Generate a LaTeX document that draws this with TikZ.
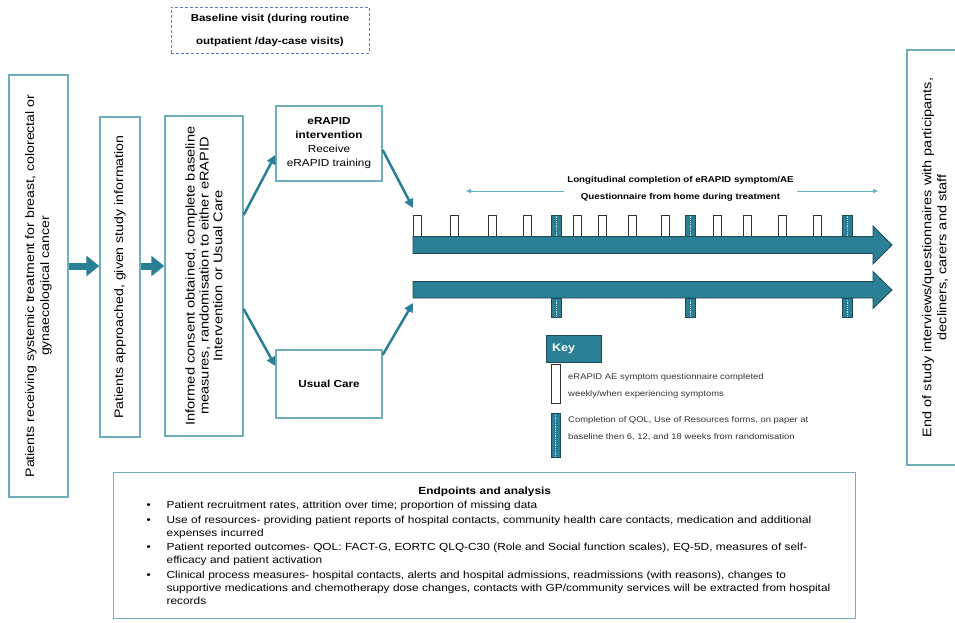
\documentclass[tikz,border=0pt]{standalone}
\usepackage{fontspec}
\setmainfont{Liberation Sans}
\newfontfamily\widesans[FakeStretch=1.15]{Liberation Sans}
\usetikzlibrary{arrows.meta}

\definecolor{flowteal}{RGB}{42,127,148}
\definecolor{boxteal}{RGB}{112,174,188}
\definecolor{darkteal}{RGB}{28,74,88}
\definecolor{spanteal}{RGB}{96,178,200}
\definecolor{dashblue}{RGB}{90,128,196}

\newcommand{\epbullet}{\par\noindent\hangindent=49pt\hangafter=1\makebox[49pt][l]{\hspace{29pt}\textbullet}}

\begin{document}
\begin{tikzpicture}[x=1pt, y=-1pt,
  box/.style={draw=boxteal, line width=1.4pt, fill=white, align=center, inner sep=2pt},
  vbox/.style={box, rotate=90},
  flow/.style={draw=flowteal, line width=7pt, -{Triangle[length=13pt,width=20pt]}},
  link/.style={draw=flowteal, line width=2.5pt, -{Triangle[length=9pt,width=9pt]}},
  wmark/.style={draw=black!80, fill=white, line width=0.8pt, minimum width=8pt, minimum height=21pt, inner sep=0pt},
  qmark/.style={draw=darkteal, fill=flowteal, line width=0.8pt, minimum width=10pt, inner sep=0pt,
    path picture={\draw[white!70!flowteal, densely dotted, line width=0.8pt] (path picture bounding box.north) -- (path picture bounding box.south);}},
  tline/.style={draw=darkteal, fill=flowteal, line width=0.8pt},
  span/.style={draw=spanteal, line width=1pt, -{Triangle[length=5pt,width=4pt]}},
  keytext/.style={anchor=west, align=left, inner sep=0pt, text=black!80, font=\widesans\fontsize{8.2}{17}\selectfont},
]
\useasboundingbox (0,0) rectangle (955,623);

\node[draw=dashblue, densely dashed, line width=0.9pt, minimum width=198pt, minimum height=46pt, align=center, font=\widesans\bfseries\fontsize{10}{23}\selectfont] (base) at (270,30) {Baseline visit (during routine\\outpatient /day-case visits)};

\node[vbox, minimum width=422pt, minimum height=59pt, font=\widesans\fontsize{12.3}{15}\selectfont] (recv) at (38.5,286) {Patients receiving systemic treatment for breast, colorectal or\\gynaecological cancer};
\node[vbox, minimum width=320pt, minimum height=40pt, font=\widesans\fontsize{12.3}{15}\selectfont] (appr) at (120,277) {Patients approached, given study information};
\node[vbox, minimum width=320pt, minimum height=78pt, font=\widesans\fontsize{12.7}{13.8}\selectfont] (cons) at (204,276) {Informed consent obtained, complete baseline\\measures, randomisation to either eRAPID\\Intervention or Usual Care};

\node[box, minimum width=106pt, minimum height=75pt, font=\widesans\fontsize{10.2}{14}\selectfont] (erapid) at (329,143.5) {\textbf{eRAPID}\\\textbf{intervention}\\Receive\\eRAPID training};
\node[box, minimum width=106pt, minimum height=68pt, font=\widesans\bfseries\fontsize{10.2}{12}\selectfont] (usual) at (329,384) {Usual Care};

\node[vbox, minimum width=415pt, minimum height=56pt, font=\widesans\fontsize{12.6}{15}\selectfont] (endstudy) at (935,257.5) {End of study interviews/questionnaires with participants,\\decliners, carers and staff};

\coordinate (lvl) at (0,266);
\draw[flow] (recv.south |- lvl) -- (appr.north |- lvl);
\draw[flow] (appr.south |- lvl) -- (cons.north |- lvl);
\draw[link] ([yshift=61pt]cons.south) -- ([yshift=-11.5pt]erapid.west);
\draw[link] ([yshift=-33pt]cons.south) -- ([yshift=18pt]usual.west);

\foreach \x in {417,454,492,527,577,602,632,665,717,747,782,817}
  \node[wmark] (w\x) at (\x,226) {};
\foreach \x in {556,690,847} {
  \node[qmark, minimum height=21pt] (qt\x) at (\x,226) {};
  \node[qmark, minimum height=19pt] (qb\x) at (\x,307.5) {};
}
\draw[tline] (413,236.5) -- (873,236.5) -- (873,226) -- (892,245) -- (873,264) -- (873,253.5) -- (413,253.5) -- cycle;
\draw[tline] (413,281.5) -- (873,281.5) -- (873,271.5) -- (892,290) -- (873,308.5) -- (873,298) -- (413,298) -- cycle;
\coordinate (inE) at (413,208);
\coordinate (inU) at (413,303);
\draw[link] ([yshift=-6.5pt]erapid.east) -- (inE);
\draw[link] ([yshift=29pt]usual.east) -- (inU);

\node[font=\widesans\bfseries\fontsize{8.5}{17}\selectfont, align=center, inner sep=3pt] (span) at (680.5,189) {Longitudinal completion of eRAPID symptom/AE\\Questionnaire from home during treatment};
\coordinate (spanL) at (466,191);
\coordinate (spanR) at (878,191);
\draw[span] (span.west |- spanL) -- (spanL);
\draw[span] (span.east |- spanR) -- (spanR);

\node[draw=darkteal, fill=flowteal, line width=0.8pt, text width=43pt, minimum height=27pt, inner xsep=6pt, align=left, text=white, font=\widesans\bfseries\fontsize{11}{13}\selectfont] (key) at (573.5,348.5) {Key};
\node[wmark, minimum width=9pt, minimum height=39pt] (kw) at (555.5,384) {};
\node[qmark, minimum width=9pt, minimum height=44pt] (kq) at (555.5,435) {};
\node[keytext] (kwt) at (568,385.5) {eRAPID AE symptom questionnaire completed\\weekly/when experiencing symptoms};
\node[keytext] (kqt) at (568,428.5) {Completion of QOL, Use of Resources forms, on paper at\\baseline then 6, 12, and 18 weeks from randomisation};

\node[box, anchor=north west, text width=734pt, minimum height=146pt, inner xsep=4pt, inner ysep=4pt, align=left, font=\widesans\fontsize{10.3}{13}\selectfont] (ends) at (113,472) {%
  \setlength{\parskip}{1.5pt}%
  {\centering\textbf{Endpoints and analysis}\par}
  \epbullet Patient recruitment rates, attrition over time; proportion of missing data
  \epbullet Use of resources- providing patient reports of hospital contacts, community health care contacts, medication and additional\newline expenses incurred
  \epbullet Patient reported outcomes- QOL: FACT-G, EORTC QLQ-C30 (Role and Social function scales), EQ-5D, measures of self-\newline efficacy and patient activation
  \epbullet Clinical process measures- hospital contacts, alerts and hospital admissions, readmissions (with reasons), changes to\newline supportive medications and chemotherapy dose changes, contacts with GP/community services will be extracted from hospital\newline records\par};
\end{tikzpicture}
\end{document}
